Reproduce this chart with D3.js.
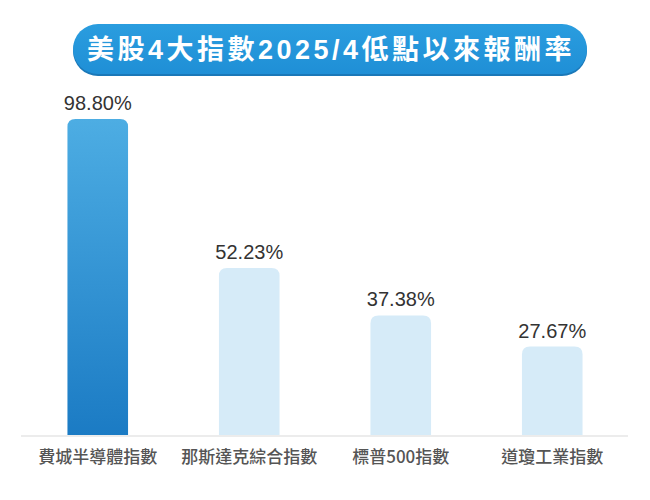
<!DOCTYPE html>
<html>
<head>
<meta charset="utf-8">
<script src="https://d3js.org/d3.v7.min.js"></script>
<style>
  body { margin: 0; background: #fff; }
  text { font-family: "Noto Sans CJK TC", "Liberation Sans", sans-serif; }
</style>
</head>
<body>
<div id="chart"></div>
<script>
var categories = ["費城半導體指數", "那斯達克綜合指數", "標普500指數", "道瓊工業指數"];
var values = [98.80, 52.23, 37.38, 27.67];
var valueLabels = ["98.80%", "52.23%", "37.38%", "27.67%"];
var titleText = "美股4大指數2025/4低點以來報酬率";

var width = 650, height = 500;
var baseY = 435;

var svg = d3.select("#chart").append("svg")
  .attr("width", width)
  .attr("height", height);

var defs = svg.append("defs");
var grad = defs.append("linearGradient")
  .attr("id", "barGrad")
  .attr("x1", 0).attr("y1", 0).attr("x2", 0).attr("y2", 1);
grad.append("stop").attr("offset", "0%").attr("stop-color", "#4dade3");
grad.append("stop").attr("offset", "100%").attr("stop-color", "#1b7bc4");

var pillGrad = defs.append("linearGradient")
  .attr("id", "pillGrad")
  .attr("x1", 0).attr("y1", 0).attr("x2", 0).attr("y2", 1);
pillGrad.append("stop").attr("offset", "0%").attr("stop-color", "#2a9ddf");
pillGrad.append("stop").attr("offset", "100%").attr("stop-color", "#1f8fd6");

// title pill
svg.append("rect")
  .attr("x", 73).attr("y", 26)
  .attr("width", 514).attr("height", 50)
  .attr("rx", 25)
  .attr("fill", "#1a78b8");
svg.append("rect")
  .attr("x", 73).attr("y", 24)
  .attr("width", 514).attr("height", 50)
  .attr("rx", 25)
  .attr("fill", "url(#pillGrad)");
svg.append("text")
  .attr("x", 331).attr("y", 59)
  .attr("text-anchor", "middle")
  .attr("fill", "#fff")
  .style("font-family", "'Liberation Sans', 'Noto Sans CJK TC', sans-serif")
  .style("font-size", "27px")
  .style("font-weight", "bold")
  .style("letter-spacing", "3.5px")
  .text(titleText);

var x = d3.scaleBand()
  .domain(categories)
  .range([22, 628])
  .paddingInner(0.6)
  .paddingOuter(0.3);

var y = d3.scaleLinear()
  .domain([0, 98.8])
  .range([baseY, 119]);

var r = 8;
function barPath(x0, w, top) {
  return "M" + x0 + "," + baseY +
    "V" + (top + r) +
    "Q" + x0 + "," + top + " " + (x0 + r) + "," + top +
    "H" + (x0 + w - r) +
    "Q" + (x0 + w) + "," + top + " " + (x0 + w) + "," + (top + r) +
    "V" + baseY + "Z";
}

svg.selectAll("path.bar")
  .data(values)
  .enter().append("path")
  .attr("class", "bar")
  .attr("d", function(d, i) { return barPath(x(categories[i]), x.bandwidth(), y(d)); })
  .attr("fill", function(d, i) { return i === 0 ? "url(#barGrad)" : "#d6ebf8"; });

svg.selectAll("text.val")
  .data(values)
  .enter().append("text")
  .attr("class", "val")
  .attr("x", function(d, i) { return x(categories[i]) + x.bandwidth() / 2; })
  .attr("y", function(d) { return y(d) - 9; })
  .attr("text-anchor", "middle")
  .attr("fill", "#333")
  .style("font-family", "'Liberation Sans', Arial, sans-serif")
  .style("font-size", "20px")
  .text(function(d, i) { return valueLabels[i]; });

// axis line
svg.append("rect")
  .attr("x", 21).attr("y", 435)
  .attr("width", 607).attr("height", 2)
  .attr("fill", "#ececec");

var xAxis = d3.axisBottom(x).tickSize(0).tickPadding(14);
var gx = svg.append("g")
  .attr("transform", "translate(0," + 437 + ")")
  .call(xAxis);
gx.select(".domain").remove();
gx.selectAll("text")
  .attr("fill", "#555")
  .style("font-family", "'Noto Sans CJK TC', sans-serif")
  .style("font-size", "17px")
  .style("font-weight", "500");
</script>
</body>
</html>
